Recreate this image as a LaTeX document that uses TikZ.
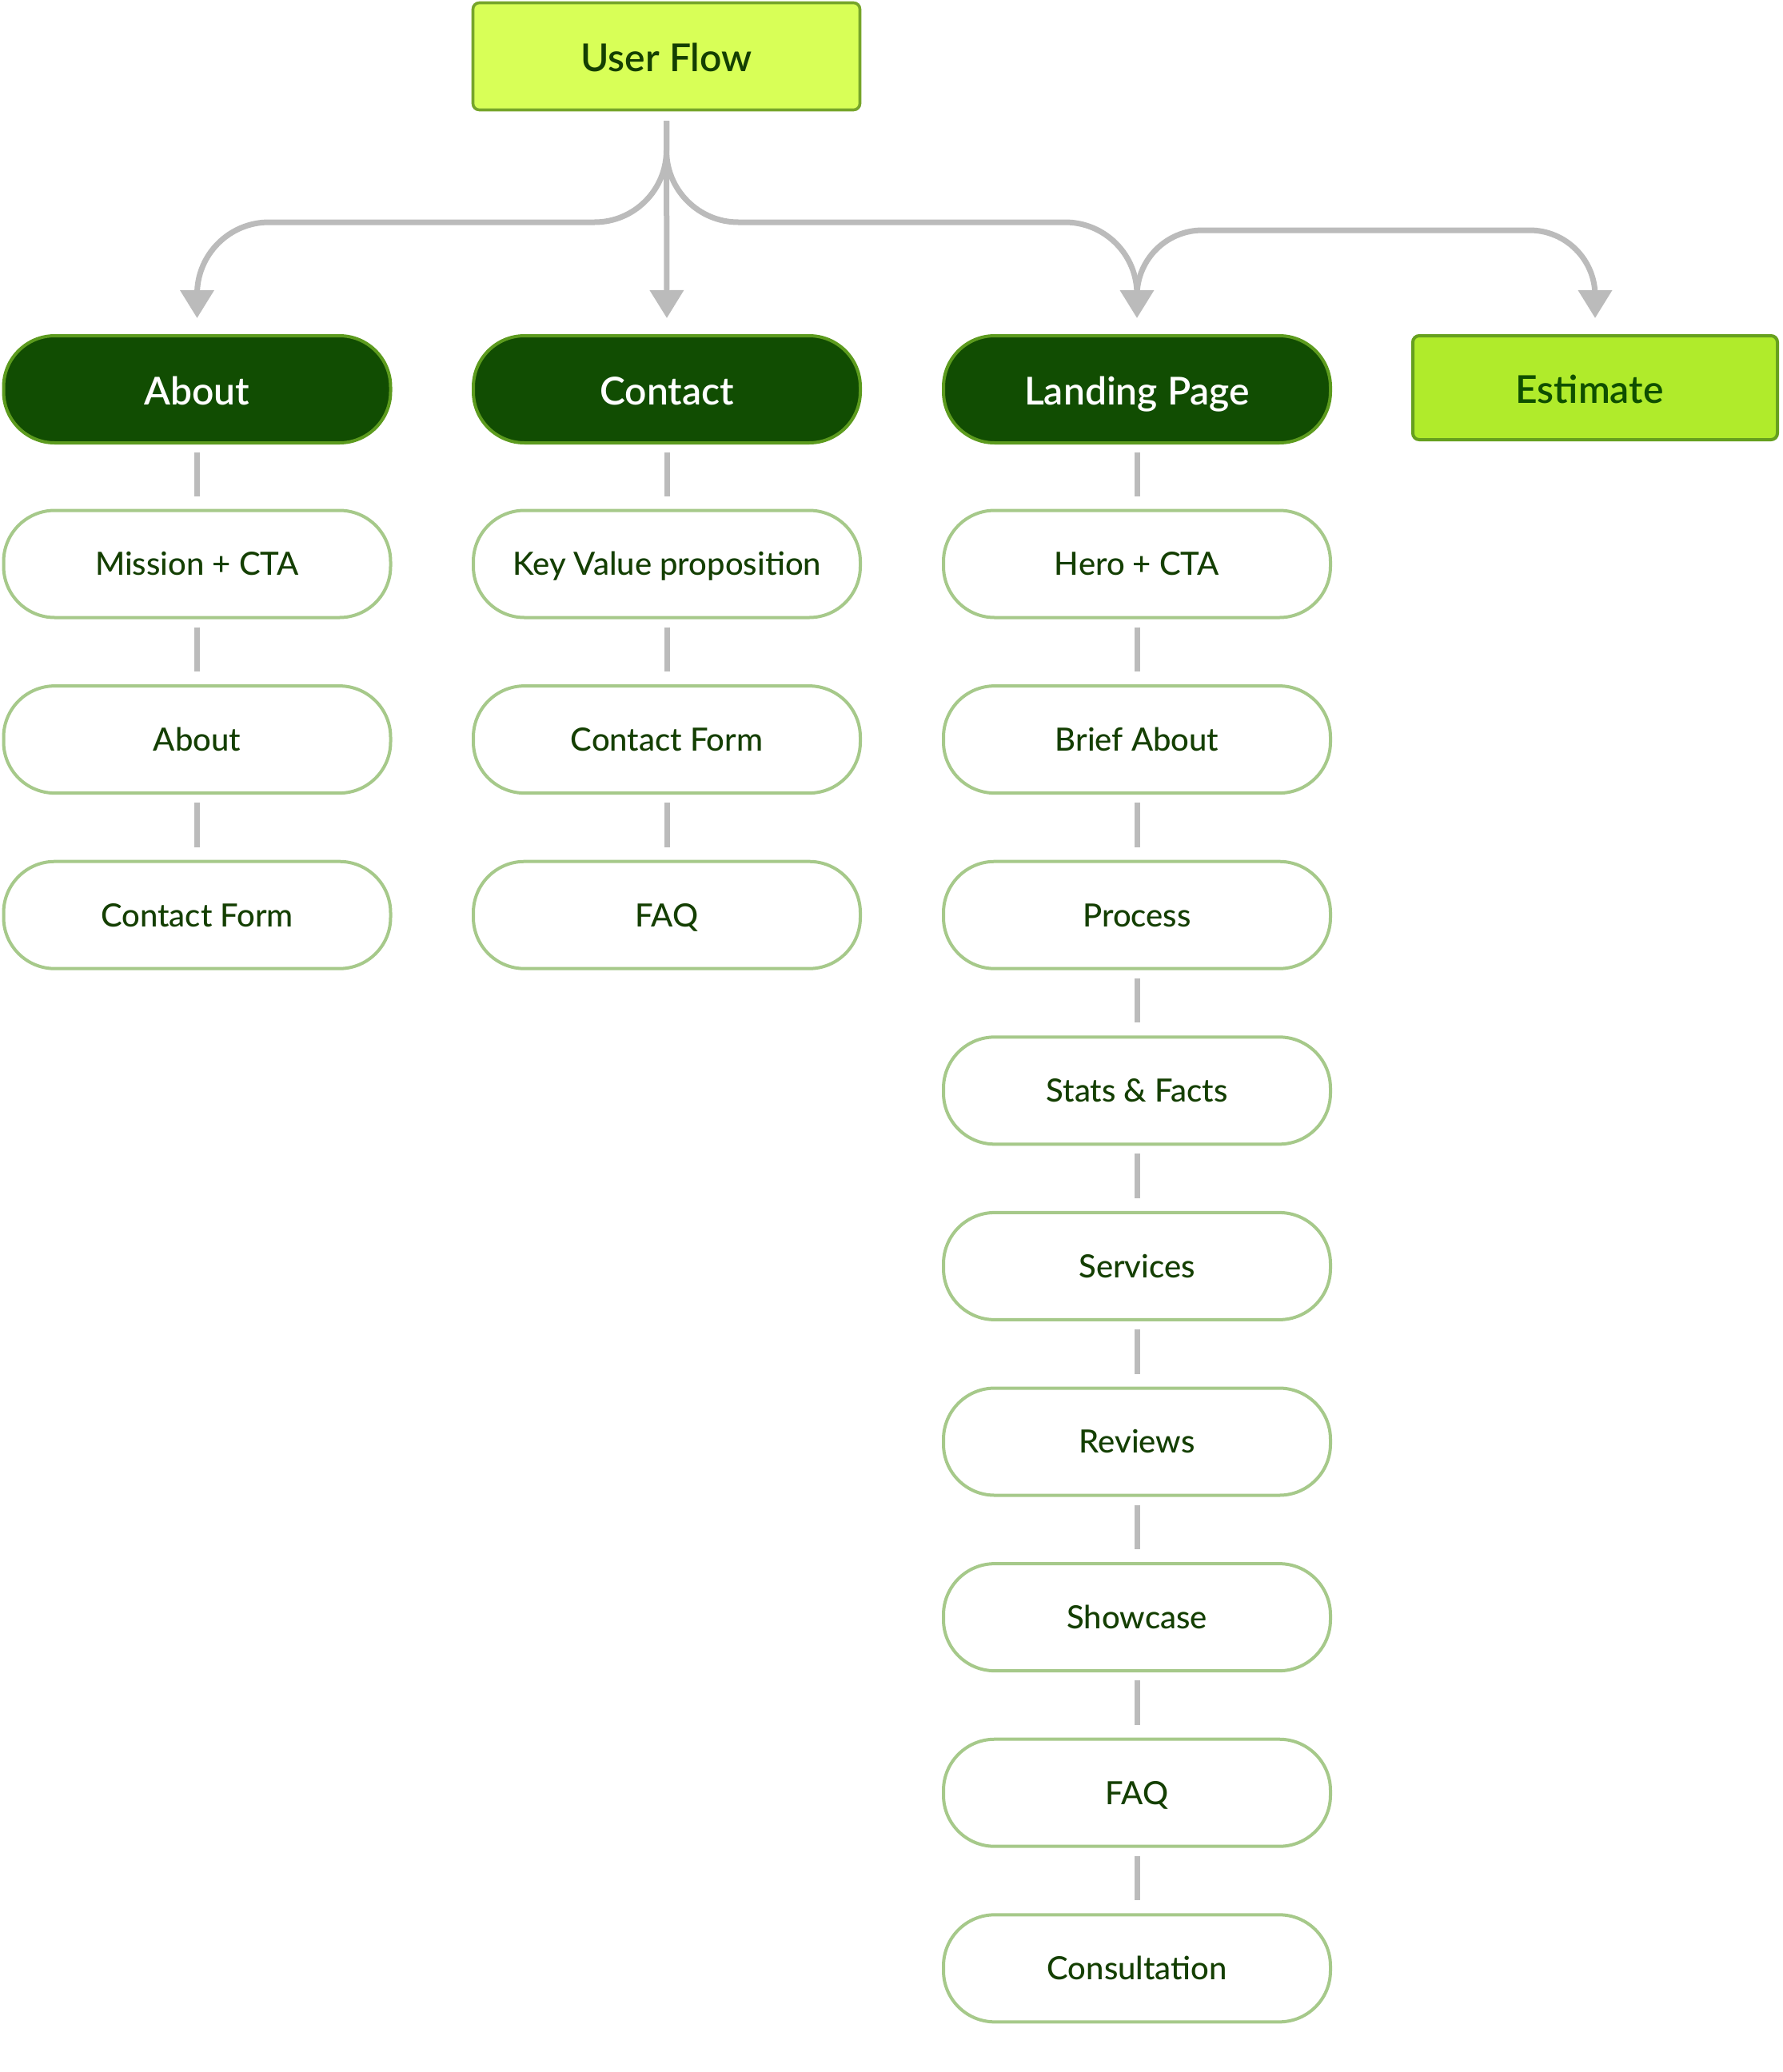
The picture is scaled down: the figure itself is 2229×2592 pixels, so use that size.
\documentclass[tikz,border=0pt]{standalone}
\usepackage{fontspec}
\usetikzlibrary{arrows.meta,calc}
\setmainfont{Lato}
\IfFontExistsTF{Lato Semibold}{\newfontfamily\hdfont{Lato Semibold}}{\newcommand\hdfont{\bfseries}}
\IfFontExistsTF{Lato Medium}{\newfontfamily\subfont{Lato Medium}}{\newcommand\subfont{\mdseries}}
\definecolor{ufill}{HTML}{D8FF57}
\definecolor{ubord}{HTML}{76A52A}
\definecolor{efill}{HTML}{B0EB2B}
\definecolor{ebord}{HTML}{66A01E}
\definecolor{etxt}{HTML}{0F4F00}
\definecolor{dfill}{HTML}{114D02}
\definecolor{dbord}{HTML}{5C9B1E}
\definecolor{sbord}{HTML}{A6C98A}
\definecolor{txt}{HTML}{143F02}
\definecolor{gline}{HTML}{BBBBBB}
\begin{document}
\begin{tikzpicture}[x=0.5pt,y=0.5pt,
  basebox/.style={minimum width=242pt, minimum height=67pt, inner sep=0pt, align=center},
  bigtext/.style={font=\hdfont\fontsize{24}{28}\selectfont, text height=22pt, text depth=2.8pt},
  smalltext/.style={font=\subfont\fontsize{20}{24}\selectfont, text height=18pt, text depth=3.67pt},
  rootbox/.style={basebox, bigtext, draw=ubord, line width=1.8pt, fill=ufill, rounded corners=4pt,
    text=txt},
  estbox/.style={basebox, bigtext, minimum width=228pt, minimum height=65pt, draw=ebord, line width=2pt,
    fill=efill, rounded corners=4pt, text=etxt},
  mainbox/.style={basebox, bigtext, draw=dbord, line width=2pt, fill=dfill, rounded corners=32pt,
    text=white},
  subbox/.style={basebox, smalltext, draw=sbord, line width=2pt, fill=white, rounded corners=32pt,
    text=txt},
  conn/.style={draw=gline, line width=3.5pt, rounded corners=45pt,
    -{Triangle[length=17.5pt,width=20.5pt]}},
  link/.style={draw=gline, line width=3.5pt}
]
\useasboundingbox (0,0) rectangle (2229,-2592);
\fill[white] (0,0) rectangle (2229,-2592);

\node[rootbox] (uf) at (833.5,-70.5) {User Flow};
\node[mainbox] (about) at (246.5,-487) {About};
\node[mainbox] (contact) at (834,-487) {Contact};
\node[mainbox] (landing) at (1422,-487) {Landing Page};
\node[estbox] (estimate) at (1995,-485) {\hspace*{-7pt}Estimate};

\coordinate (busA) at (0,-278);
\coordinate (busB) at (0,-288);

% column 1
\node[subbox] (a1) at (246.5,-705.5) {Mission + CTA};
\node[subbox] (a2) at (246.5,-925.1) {About};
\node[subbox] (a3) at (246.5,-1144.7) {Contact Form};
% column 2
\node[subbox] (c1) at (834,-705.5) {Key Value proposition};
\node[subbox] (c2) at (834,-925.1) {Contact Form};
\node[subbox] (c3) at (834,-1144.7) {FAQ};
% column 3
\node[subbox] (l1) at (1422,-705.5) {Hero + CTA};
\node[subbox] (l2) at (1422,-925.1) {Brief About};
\node[subbox] (l3) at (1422,-1144.7) {Process};
\node[subbox] (l4) at (1422,-1364.3) {Stats \& Facts};
\node[subbox] (l5) at (1422,-1583.9) {Services};
\node[subbox] (l6) at (1422,-1803.5) {Reviews};
\node[subbox] (l7) at (1422,-2023.1) {Showcase};
\node[subbox] (l8) at (1422,-2242.7) {FAQ};
\node[subbox] (l9) at (1422,-2462.3) {Consultation};

% arrows from User Flow
\draw[conn] ([yshift=-6pt]uf.south) |- (about.north |- busA) -- ([yshift=10pt]about.north);
\draw[conn] ([yshift=-6pt]uf.south) -- ([yshift=10pt]contact.north);
\draw[conn] ([yshift=-6pt]uf.south) |- (landing.north |- busA) -- ([yshift=10pt]landing.north);
\draw[conn, rounded corners=41pt] ([yshift=22pt]landing.north) |- (estimate.north |- busB) -- ([yshift=10pt]estimate.north);

% short links
\foreach \u/\v in {about/a1,a1/a2,a2/a3,contact/c1,c1/c2,c2/c3,landing/l1,l1/l2,l2/l3,l3/l4,l4/l5,l5/l6,l6/l7,l7/l8,l8/l9}{
  \draw[link] ([yshift=-5pt]\u.south) -- ([yshift=8pt]\v.north);
}
\end{tikzpicture}
\end{document}
